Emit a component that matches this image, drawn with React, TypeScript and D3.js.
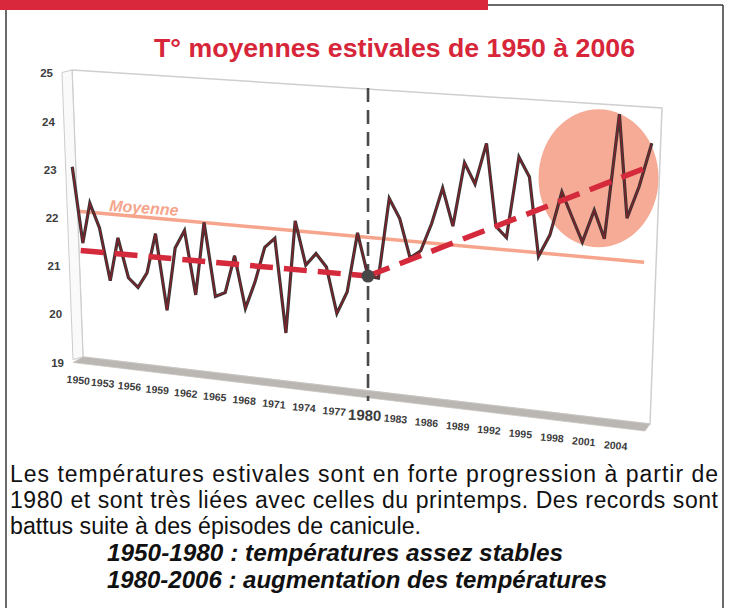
import React from 'react';
import * as d3 from 'd3';

// ---- data ----
const years: number[] = d3.range(1950, 2007);
const temps: number[] = [
  22.97, 21.39, 22.24, 21.74, 20.66, 21.57, 20.76, 20.58, 20.90, 21.73,
  20.17, 21.47, 21.85, 20.55, 22.05, 20.56, 20.66, 21.43, 20.38, 20.94,
  21.66, 21.86, 19.97, 22.25, 21.38, 21.63, 21.38, 20.47, 20.92, 22.12,
  21.28, 21.26, 22.86, 22.48, 21.72, 21.88, 22.43, 23.15, 22.42, 23.68,
  23.28, 24.09, 22.49, 22.29, 23.87, 23.50, 21.98, 22.41, 23.26, 22.79,
  22.33, 22.96, 22.43, 24.83, 22.86, 23.48, 24.32,
];
const yTicks: number[] = [19, 20, 21, 22, 23, 24, 25];
const xTickYears: number[] = [1950, 1953, 1956, 1959, 1962, 1965, 1968, 1971, 1974, 1977, 1980, 1983, 1986, 1989, 1992, 1995, 1998, 2001, 2004];
const trendBefore: [number, number][] = [[1950.7, 21.23], [1980, 21.28]];
const trendAfter: [number, number][] = [[1980, 21.28], [2005.5, 23.84]];
const meanValue = 22.05;
const meanSpan: number[] = [1950.6, 2005.7];
const breakYear = 1980;
const highlight = { year: 2001.3, value: 23.58 };

const title = 'T° moyennes estivales de 1950 à 2006';
const textLines: string[] = [
  'Les températures estivales sont en forte progression à partir de',
  '1980 et sont très liées avec celles du printemps. Des records sont',
  'battus suite à des épisodes de canicule.',
];
const italicLines: string[] = [
  '1950-1980 :  températures assez stables',
  '1980-2006 : augmentation des températures',
];
const italicWidths: number[] = [456, 500];

// ---- geometry of the 3D back wall ----
type P = [number, number];
const TL: P = [72, 70], TR: P = [662, 108], BR: P = [650, 424], BL: P = [83, 357];
const WALL_OFF: P = [-10, 2.5];
const FLOOR_OFF_L: P = [-10, 5.5], FLOOR_OFF_R: P = [-5, 7];
const lerp = (a: number, b: number, t: number) => a + (b - a) * t;
const lerpP = (p: P, q: P, t: number): P => [lerp(p[0], q[0], t), lerp(p[1], q[1], t)];

const tScale = d3.scalePow().exponent(1.07).domain([0, 56]).range([-0.006, 0.985]);
const sScale = d3.scaleLinear().domain([25, 19]).range([0, 1]);

function projT(t: number, v: number): P {
  const top = lerpP(TL, TR, t);
  const bot = lerpP(BL, BR, t);
  return lerpP(top, bot, sScale(v));
}
function proj(year: number, v: number): P {
  return projT(tScale(year - years[0]), v);
}

const FONT = '"Liberation Sans", Arial, Helvetica, sans-serif';

export default function App() {
  const line = d3.line<P>().x(d => d[0]).y(d => d[1]);
  const dataPts: P[] = years.map((y, i) => proj(y, temps[i]));
  const trend1 = trendBefore.map(d => proj(d[0], d[1]));
  const trend2 = trendAfter.map(d => proj(d[0], d[1]));
  const meanPts: P[] = [proj(meanSpan[0], meanValue), proj(meanSpan[1], meanValue)];
  const dot = proj(breakYear, temps[years.indexOf(breakYear)]);
  const hc = proj(highlight.year, highlight.value);
  const lbl = proj(1954.1, meanValue);

  const OTL: P = [TL[0] + WALL_OFF[0], TL[1] + WALL_OFF[1]];
  const OBL: P = [BL[0] + WALL_OFF[0], BL[1] + WALL_OFF[1]];
  const FL: P = [BL[0] + FLOOR_OFF_L[0], BL[1] + FLOOR_OFF_L[1]];
  const FR: P = [BR[0] + FLOOR_OFF_R[0], BR[1] + FLOOR_OFF_R[1]];
  const poly = (pts: P[]) => pts.map(p => p.join(',')).join(' ');

  const vTop = proj(breakYear, 25);
  const vx = proj(breakYear, 22)[0];

  return (
    <svg width={731} height={608} style={{ position: 'absolute', left: 0, top: 0, background: '#fff' }}
      fontFamily={FONT}>
      {/* header bar & frame */}
      <rect x={0} y={0} width={488} height={10} fill="#d9283b" />
      <line x1={488} y1={5} x2={723} y2={5} stroke="#3a3a3a" strokeWidth={1.5} />
      <line x1={6} y1={10} x2={6} y2={608} stroke="#3a3a3a" strokeWidth={1.5} />
      <line x1={723} y1={5} x2={723} y2={608} stroke="#3a3a3a" strokeWidth={1.5} />

      {/* title */}
      <text x={394.5} y={57} textAnchor="middle" fontSize={26.7} fontWeight="bold" fill="#d7263a">{title}</text>

      {/* 3D wall, side wall, floor */}
      <polygon points={poly([TL, TR, BR, BL])} fill="#fff" stroke="#cfcfcf" strokeWidth={1.5} />
      <polygon points={poly([OTL, TL, BL, OBL])} fill="#fafafa" stroke="#cccccc" strokeWidth={1} />
      <polygon points={poly([BL, BR, FR, FL])} fill="#bab6b2" stroke="#c8c5c2" strokeWidth={0.8} />

      {/* highlight circle */}
      <ellipse cx={hc[0]} cy={hc[1]} rx={60} ry={69} fill="#f5ab96" />

      {/* mean line */}
      <path d={line(meanPts) || ''} stroke="#f6a58c" strokeWidth={3.5} fill="none" />
      <text x={lbl[0]} y={lbl[1] - 3} fontSize={16} fontWeight="bold" fontStyle="italic" fill="#f6a58c"
        transform={`rotate(4, ${lbl[0]}, ${lbl[1] - 3})`}>Moyenne</text>

      {/* 1980 vertical dashed line */}
      <line x1={vx} y1={vTop[1] - 1} x2={vx} y2={401} stroke="#4a4a4a" strokeWidth={2.6} strokeDasharray="14 8" />

      {/* data line */}
      <path d={line(dataPts) || ''} stroke="#3a3636" strokeWidth={3.2} fill="none" strokeLinejoin="miter" />
      <path d={line(dataPts) || ''} stroke="#86202a" strokeWidth={1.2} fill="none" strokeLinejoin="miter" />

      {/* trends */}
      <path d={line(trend1) || ''} stroke="#d42a3c" strokeWidth={5.5} fill="none" strokeDasharray="23 11" />
      <path d={line(trend2) || ''} stroke="#d42a3c" strokeWidth={5.5} fill="none" strokeDasharray="23 11" />
      <circle cx={dot[0]} cy={dot[1]} r={6.5} fill="#474747" />

      {/* y labels */}
      {yTicks.map(v => {
        const p = projT(0, v);
        const s = sScale(v);
        return (
          <text key={v} x={p[0] + WALL_OFF[0] - 9} y={p[1] + 3.3 + 2.4 * s + 4} textAnchor="end"
            fontSize={11.5} fontWeight="bold" fill="#3c3c3c">{v}</text>
        );
      })}

      {/* x labels */}
      {xTickYears.map(yr => {
        const t = tScale(yr - years[0]);
        const b = projT(t, 19);
        const off = lerpP(FLOOR_OFF_L, FLOOR_OFF_R, t);
        const big = yr === breakYear;
        const x = b[0] + off[0] + 4 + (4.4 - 8.3 * t);
        const y = b[1] + off[1] + 18 + (big ? 5.5 : 3.8);
        return (
          <text key={yr} x={x} y={y} textAnchor="middle" fontSize={big ? 15 : 10.5} fontWeight="bold"
            fill="#3c3c3c" transform={`rotate(${big ? 2 : 5}, ${x}, ${y})`}>{yr}</text>
        );
      })}

      {/* caption */}
      {textLines.map((s, i) => (
        <text key={i} x={10} y={482 + i * 26} fontSize={23} fill="#111"
          textLength={i < 2 ? 708 : 411} lengthAdjust={i < 2 ? 'spacing' : 'spacingAndGlyphs'}>{s}</text>
      ))}
      {italicLines.map((s, i) => (
        <text key={i} x={107} y={561 + i * 27} fontSize={23.5} fontWeight="bold" fontStyle="italic" fill="#111"
          textLength={italicWidths[i]} lengthAdjust="spacingAndGlyphs">{s}</text>
      ))}
    </svg>
  );
}
